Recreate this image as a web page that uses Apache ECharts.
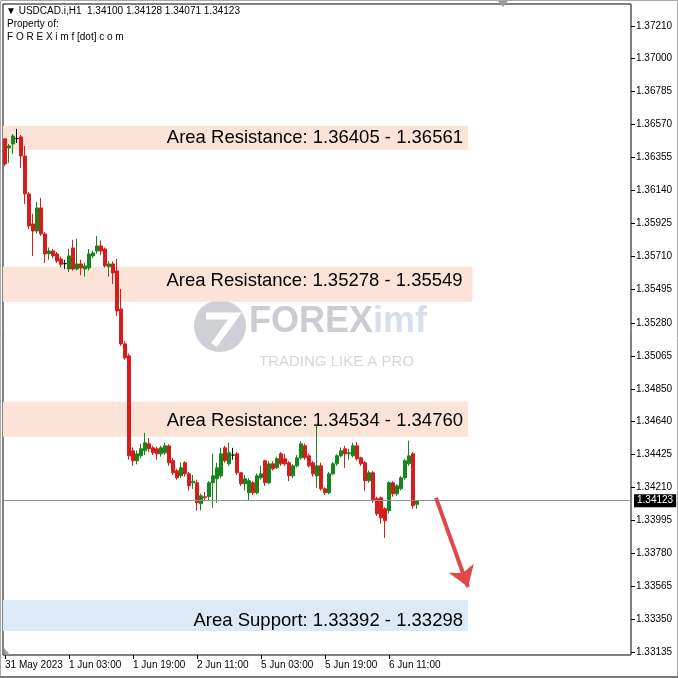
<!DOCTYPE html>
<html>
<head>
<meta charset="utf-8">
<script src="https://cdn.jsdelivr.net/npm/echarts@6/dist/echarts.min.js"></script>
<style>html,body{margin:0;padding:0;background:#fff}#c{width:678px;height:678px}</style>
</head>
<body>
<div id="c"></div>
<script>
// ---- data ----
const openP = [1.36476,1.36417,1.36443,1.36478,1.36489,1.36365,1.36118,1.35923,1.35877,1.36027,
1.35858,1.35730,1.35747,1.35728,1.35695,1.35665,1.35630,1.35767,1.35630,1.35663,
1.35630,1.35637,1.35715,1.35747,1.35780,1.35760,1.35645,1.35663,1.35617,1.35370,
1.35143,1.35065,1.34448,1.34383,1.34415,1.34448,1.34493,1.34467,1.34461,1.34428,
1.34435,1.34480,1.34383,1.34318,1.34285,1.34370,1.34298,1.34240,1.34240,1.34103,
1.34149,1.34150,1.34240,1.34266,1.34285,1.34467,1.34363,1.34420,1.34428,1.34305,
1.34233,1.34175,1.34240,1.34175,1.34272,1.34383,1.34240,1.34363,1.34337,1.34428,
1.34396,1.34370,1.34285,1.34350,1.34402,1.34480,1.34415,1.34370,1.34285,1.34350,
1.34201,1.34175,1.34298,1.34363,1.34415,1.34461,1.34428,1.34415,1.34480,1.34402,
1.34370,1.34253,1.34305,1.34136,1.34142,1.34071,1.34058,1.34240,1.34168,1.34201,
1.34272,1.34363,1.34428,1.34100];
const closeP = [1.36313,1.36430,1.36495,1.36478,1.36365,1.36118,1.35910,1.35877,1.36027,1.35858,
1.35728,1.35747,1.35715,1.35682,1.35660,1.35665,1.35715,1.35630,1.35663,1.35637,
1.35650,1.35728,1.35734,1.35780,1.35747,1.35650,1.35663,1.35604,1.35357,1.35143,
1.35052,1.34415,1.34383,1.34428,1.34461,1.34500,1.34461,1.34435,1.34428,1.34467,
1.34480,1.34370,1.34305,1.34272,1.34337,1.34298,1.34220,1.34250,1.34110,1.34155,
1.34142,1.34240,1.34285,1.34337,1.34428,1.34383,1.34435,1.34420,1.34305,1.34233,
1.34266,1.34253,1.34175,1.34285,1.34298,1.34240,1.34363,1.34331,1.34396,1.34363,
1.34363,1.34285,1.34350,1.34402,1.34493,1.34402,1.34350,1.34298,1.34350,1.34201,
1.34175,1.34298,1.34363,1.34415,1.34448,1.34428,1.34435,1.34480,1.34396,1.34363,
1.34253,1.34305,1.34123,1.34038,1.34012,1.33993,1.34240,1.34168,1.34220,1.34272,
1.34383,1.34415,1.34090,1.34123];
const lowP = [1.36300,1.36320,1.36378,1.36450,1.36287,1.36053,1.35890,1.35715,1.35860,1.35845,
1.35669,1.35690,1.35700,1.35670,1.35640,1.35630,1.35610,1.35620,1.35620,1.35590,
1.35580,1.35620,1.35700,1.35730,1.35720,1.35640,1.35580,1.35533,1.35325,1.35130,
1.35040,1.34390,1.34350,1.34360,1.34400,1.34420,1.34440,1.34420,1.34390,1.34410,
1.34420,1.34350,1.34290,1.34260,1.34270,1.34280,1.34190,1.34200,1.34058,1.34060,
1.34120,1.34120,1.34077,1.34110,1.34270,1.34370,1.34350,1.34390,1.34290,1.34220,
1.34190,1.34123,1.34160,1.34165,1.34260,1.34220,1.34230,1.34320,1.34330,1.34350,
1.34350,1.34250,1.34270,1.34340,1.34390,1.34390,1.34340,1.34280,1.34207,1.34190,
1.34160,1.34165,1.34290,1.34350,1.34405,1.34337,1.34390,1.34405,1.34385,1.34350,
1.34188,1.34240,1.34110,1.34025,1.33973,1.33882,1.34040,1.34150,1.34155,1.34190,
1.34260,1.34350,1.34071,1.34071];
const highP = [1.36482,1.36443,1.36508,1.36541,1.36502,1.36430,1.36130,1.35988,1.36066,1.36092,
1.35870,1.35770,1.35760,1.35740,1.35710,1.35690,1.35760,1.35819,1.35825,1.35690,
1.35670,1.35760,1.35750,1.35845,1.35815,1.35770,1.35680,1.35680,1.35695,1.35500,
1.35160,1.35080,1.34470,1.34450,1.34493,1.34565,1.34530,1.34480,1.34475,1.34480,
1.34500,1.34490,1.34400,1.34330,1.34370,1.34380,1.34310,1.34290,1.34260,1.34170,
1.34180,1.34250,1.34428,1.34370,1.34467,1.34480,1.34500,1.34467,1.34440,1.34310,
1.34290,1.34270,1.34250,1.34300,1.34350,1.34390,1.34380,1.34380,1.34410,1.34440,
1.34428,1.34380,1.34360,1.34420,1.34510,1.34495,1.34430,1.34380,1.34623,1.34370,
1.34210,1.34310,1.34375,1.34425,1.34470,1.34480,1.34460,1.34500,1.34505,1.34410,
1.34380,1.34320,1.34315,1.34150,1.34150,1.34080,1.34250,1.34250,1.34230,1.34285,
1.34395,1.34513,1.34440,1.34128];

const yTickLabels = ['1.33135','1.33350','1.33565','1.33780','1.33995','1.34210','1.34425','1.34640','1.34850','1.35065',
'1.35280','1.35495','1.35710','1.35925','1.36140','1.36355','1.36570','1.36785','1.37000','1.37210'];
const xTickLabels = ['31 May 2023','1 Jun 03:00','1 Jun 19:00','2 Jun 11:00','5 Jun 03:00','5 Jun 19:00','6 Jun 11:00'];
const xTickBars = [0,16,32,48,64,80,96];

const zoneLabels = ['Area Resistance: 1.36405 - 1.36561','Area Resistance: 1.35278 - 1.35549','Area Resistance: 1.34534 - 1.34760','Area Support: 1.33392 - 1.33298'];
const zoneTop = [1.36561,1.35645,1.34767,1.33478];
const zoneBottom = [1.36405,1.35417,1.34539,1.33276];
const zoneEndBar = [115.75,116.9,115.75,115.75];
const zoneColors = ['#fbe4d7','#fbe4d7','#fbe4d7','#dceaf7'];
const zoneLabelShift = [[0,0,5],[0,-3,10],[0,2,5],[0,5,5]]; // [dx, dy, right padding]

const lastPrice = 1.34123;
const arrowFrom = [107.75, 1.34142];
const arrowTo = [115.75, 1.33562];

// ---- chart ----
const FONT = 'Liberation Sans';
const candles = openP.map((o, i) => [i, o, closeP[i], lowP[i], highP[i]]);
const yTickVals = yTickLabels.map(Number);

const chart = echarts.init(document.getElementById('c'), null, {renderer: 'canvas'});
chart.setOption({
  animation: false,
  backgroundColor: '#fff',
  grid: {left: 3, top: 4, width: 628, bottom: 23, show: true, borderColor: '#000', borderWidth: 1, backgroundColor: 'transparent'},
  xAxis: {
    type: 'value', min: -0.5, max: 156.5,
    axisLine: {show: false, onZero: false},
    splitLine: {show: false},
    axisTick: {show: true, customValues: xTickBars, length: 4, lineStyle: {color: '#000'}},
    axisLabel: {customValues: xTickBars, formatter: v => xTickLabels[xTickBars.indexOf(v)] || '',
      align: 'left', margin: 5, fontSize: 10, color: '#000', fontFamily: FONT}
  },
  yAxis: {
    type: 'value', position: 'right', min: 1.33120, max: 1.37353,
    axisLine: {show: false, onZero: false},
    splitLine: {show: false},
    axisTick: {show: true, customValues: yTickVals, length: 4, lineStyle: {color: '#000'}},
    axisLabel: {customValues: yTickVals, formatter: v => v.toFixed(5), margin: 5, fontSize: 10, color: '#000', fontFamily: FONT}
  },
  graphic: [
    {type: 'rect', z: 10, silent: true, shape: {x: 0.5, y: 0.5, width: 677, height: 676}, style: {stroke: '#a8a8a8', lineWidth: 1, fill: null}},
    {type: 'rect', z: 10, silent: true, shape: {x: 0, y: 676, width: 678, height: 2}, style: {fill: '#7a7a7a'}},
    {type: 'polygon', z: 10, silent: true, shape: {points: [[4, 648], [4, 655], [10, 655]]}, style: {fill: '#9a9a9a'}},
    {type: 'text', left: 6, top: 6, z: 10, style: {text: '\u25BC USDCAD.i,H1  1.34100 1.34128 1.34071 1.34123', font: '10px "Liberation Sans"', fill: '#000'}},
    {type: 'text', left: 7, top: 19, z: 10, style: {text: 'Property of:', font: '10px "Liberation Sans"', fill: '#000'}},
    {type: 'text', left: 7, top: 32, z: 10, style: {text: 'F O R E X i m f [dot] c o m', font: '10px "Liberation Sans"', fill: '#000'}},
    {type: 'polygon', z: 10, shape: {points: [[498, 1], [508, 1], [503, 7]]}, style: {fill: '#9a9a9a'}},
    {type: 'circle', z: 0, shape: {cx: 220, cy: 326, r: 26}, style: {fill: '#cfd0d7'}},
    {type: 'polyline', z: 0, shape: {points: [[206, 316], [235, 316], [214, 345]]}, style: {stroke: '#fff', lineWidth: 7, fill: null}},
    {type: 'text', left: 249, top: 304, z: 0, style: {text: 'FOREX', font: 'bold 36px "Liberation Sans"', fill: '#cbccd3'}},
    {type: 'text', left: 373, top: 304, z: 0, style: {text: 'imf', font: 'bold 36px "Liberation Sans"', fill: '#d6dfeb'}},
    {type: 'text', left: 259, top: 354, z: 0, style: {text: 'TRADING LIKE A PRO', font: '15px "Liberation Sans"', fill: '#d6d6d6'}}
  ],
  series: [
    {
      type: 'line', data: [], z: 1, silent: true,
      markArea: {
        silent: true,
        label: {show: true, position: 'insideRight', distance: 5, color: '#000', fontSize: 18.5, fontFamily: FONT},
        data: zoneLabels.map((name, k) => [
          {name: name, xAxis: -0.5, yAxis: zoneTop[k], itemStyle: {color: zoneColors[k], opacity: 1},
           label: {offset: [zoneLabelShift[k][0], zoneLabelShift[k][1]], distance: zoneLabelShift[k][2]}},
          {xAxis: zoneEndBar[k], yAxis: zoneBottom[k]}
        ])
      }
    },
    {
      type: 'candlestick', z: 3,
      data: candles,
      encode: {x: 0, y: [1, 2, 3, 4]},
      barWidth: 3,
      itemStyle: {color: '#16861c', color0: '#d81c1c', borderColor: '#16861c', borderColor0: '#d81c1c', borderColorDoji: '#000', borderWidth: 1},
      markLine: {
        silent: true, symbol: ['none', 'none'], precision: 5,
        lineStyle: {color: '#8795a3', width: 1, type: 'solid'},
        label: {show: true, position: 'end', distance: 3, formatter: () => lastPrice.toFixed(5),
          backgroundColor: '#000', color: '#fff', padding: [2, 3, 1, 3], fontSize: 10, fontFamily: FONT},
        data: [{yAxis: lastPrice}]
      }
    },
    {
      type: 'line', data: [], z: 4, silent: true,
      markLine: {
        silent: true, symbol: ['none', 'arrow'], symbolSize: 20, precision: 5,
        lineStyle: {color: '#e0484b', width: 4, type: 'solid'},
        label: {show: false},
        data: [[{coord: arrowFrom}, {coord: arrowTo}]]
      }
    }
  ]
});
</script>
</body>
</html>
